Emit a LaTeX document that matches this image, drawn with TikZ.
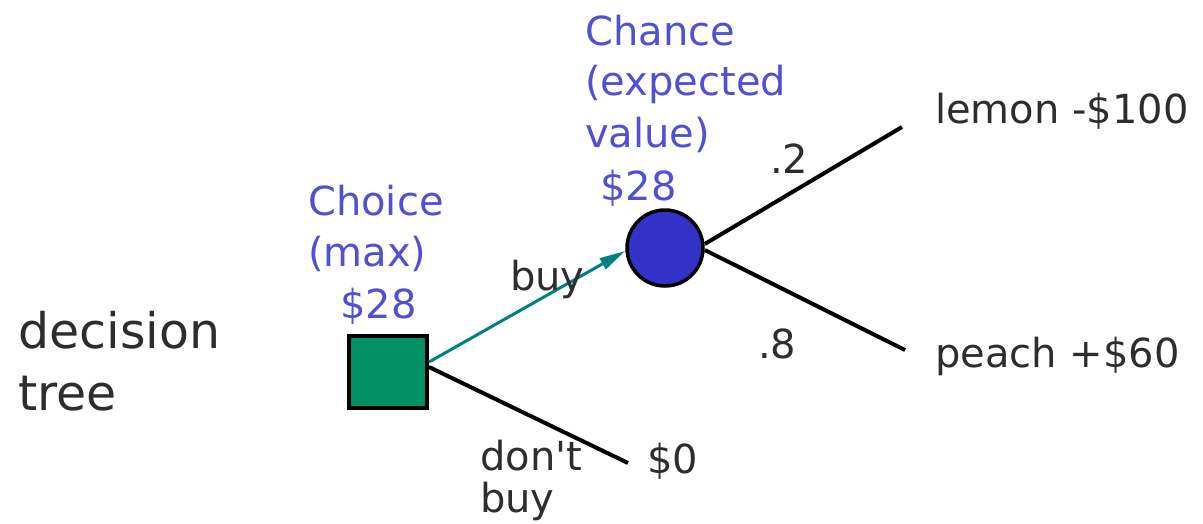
\documentclass[tikz,border=0pt]{standalone}
\usepackage{fontspec}
\setmainfont{DejaVu Sans}[Ligatures=TeXOff]
\usetikzlibrary{arrows.meta}
\definecolor{txtblue}{RGB}{80,80,210}
\definecolor{txtgray}{RGB}{45,45,45}
\definecolor{boxgreen}{RGB}{0,144,100}
\definecolor{arrteal}{RGB}{0,128,128}
\definecolor{circblue}{RGB}{50,50,200}
\tikzset{
  bluetxt/.style={anchor=base west, inner sep=0pt, text=txtblue, font=\fontsize{40}{48}\selectfont},
  graytxt/.style={anchor=base west, inner sep=0pt, text=txtgray, font=\fontsize{40}{48}\selectfont},
  bigtxt/.style={anchor=base west, inner sep=0pt, text=txtgray, font=\fontsize{49}{58}\selectfont},
  choicebox/.style={draw=black, fill=boxgreen, line width=4pt, minimum width=78pt, minimum height=72pt, inner sep=0pt},
  chancecirc/.style={circle, draw=black, fill=circblue, line width=3.5pt, minimum size=76pt, inner sep=0pt},
  branch/.style={draw=black, line width=4pt},
  buyarrow/.style={draw=arrteal, line width=3pt, -{Triangle[length=26pt,width=12pt]}}
}
\begin{document}
\begin{tikzpicture}[x=1pt,y=-1pt]
\useasboundingbox (0,0) rectangle (1203,523);
% shapes
\node[choicebox] (sq) at (388,372) {};
\node[chancecirc] (ci) at (665,248) {};
\coordinate (lemonend) at (902,127);
\coordinate (peachend) at (905,350);
\coordinate (zeroend) at (628,463);
% connectors
\draw[buyarrow] ([yshift=10pt]sq.east) -- ([yshift=-3pt]ci.west);
\draw[branch] ([yshift=5pt]sq.east) -- (zeroend);
\draw[branch] ([yshift=4pt]ci.east) -- (lemonend);
\draw[branch] ([yshift=-2pt]ci.east) -- (peachend);
% texts
\node[bigtxt] (dec1) at (18,348) {decision};
\node[bigtxt] (dec2) at (18,410) {tree};
\node[bluetxt] (ch1) at (308,215) {Choice};
\node[bluetxt] (ch2) at (308,266) {(max)};
\node[bluetxt] (ch3) at (340,318) {\$28};
\node[bluetxt] (cn1) at (585,45) {Chance};
\node[bluetxt] (cn2) at (585,95) {(expected};
\node[bluetxt] (cn3) at (585,147) {value)};
\node[bluetxt] (cn4) at (600,200) {\$28};
\node[graytxt] (buy) at (510,290) {buy};
\node[graytxt] (p2) at (770,173) {.2};
\node[graytxt] (p8) at (758,358) {.8};
\node[graytxt] (lemon) at (935,123) {lemon -\$100};
\node[graytxt] (peach) at (935,367) {peach +\$60};
\node[graytxt] (dont1) at (480,470) {don't};
\node[graytxt] (dont2) at (480,512) {buy};
\node[graytxt] (zero) at (647,473) {\$0};
\end{tikzpicture}
\end{document}
